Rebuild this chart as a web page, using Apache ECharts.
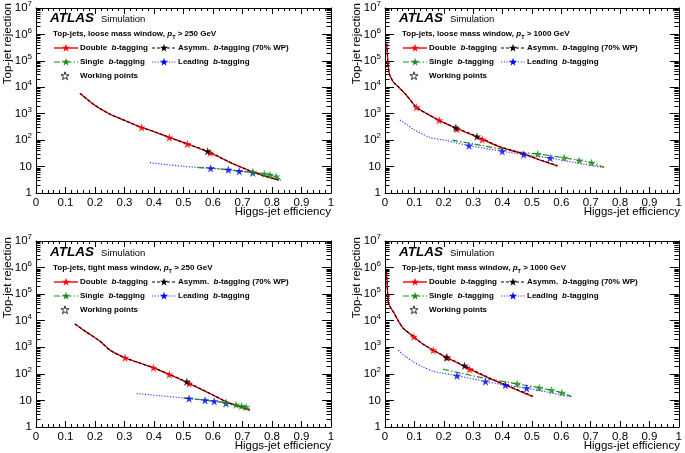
<!DOCTYPE html>
<html><head><meta charset="utf-8">
<script src="https://cdn.jsdelivr.net/npm/echarts@6/dist/echarts.min.js"></script>
<style>html,body{margin:0;padding:0;background:#fff}#c{width:685px;height:453px}</style>
</head><body><div id="c"></div><script>
// ---------------- data ----------------
const xTickValues = [0,0.1,0.2,0.3,0.4,0.5,0.6,0.7,0.8,0.9,1];
const xTickLabels = ['0','0.1','0.2','0.3','0.4','0.5','0.6','0.7','0.8','0.9','1'];
const yTickValues = [1,10,100,1e3,1e4,1e5,1e6,1e7];
const yTickLabels = ['1','10','10^2','10^3','10^4','10^5','10^6','10^7'];
const yMinorValues = [2,3,4,5,6,7,8,9,20,30,40,50,60,70,80,90,200,300,400,500,600,700,800,900,
  2e3,3e3,4e3,5e3,6e3,7e3,8e3,9e3,2e4,3e4,4e4,5e4,6e4,7e4,8e4,9e4,2e5,3e5,4e5,5e5,6e5,7e5,8e5,9e5,
  2e6,3e6,4e6,5e6,6e6,7e6,8e6,9e6];

const panelTitles = ['Top-jets, loose mass window, ','Top-jets, loose mass window, ','Top-jets, tight mass window, ','Top-jets, tight mass window, '];
const panelCuts = [' > 250 GeV',' > 1000 GeV',' > 250 GeV',' > 1000 GeV'];
const legendLabels = ['Double','Asymm.','Single','Leading','Working points'];

// Panel 1: loose, pT > 250 GeV
const p1Double = [[0.149,5900],[0.194,2300],[0.25,960],[0.30,560],[0.358,302],[0.40,210],[0.452,127],[0.513,72],[0.59,33],[0.669,12.7],[0.736,6.2],[0.78,4.2],[0.822,3.1]];
const p1DoubleWP = [[0.358,302],[0.452,127],[0.513,72],[0.59,33]];
const p1Asym = [[0.149,5900],[0.194,2300],[0.25,960],[0.30,560],[0.358,302],[0.40,210],[0.452,127],[0.513,72],[0.582,38],[0.669,12.7],[0.736,6.2],[0.78,4.2],[0.822,3.1]];
const p1AsymWP = [[0.582,38]];
const p1Single = [[0.55,9.2],[0.62,8.2],[0.689,6.8],[0.735,6.0],[0.774,5.4],[0.793,4.9],[0.814,4.2],[0.827,3.3]];
const p1SingleWP = [[0.735,6.1],[0.774,5.4],[0.793,4.9],[0.814,4.2]];
const p1Leading = [[0.386,14],[0.42,12.7],[0.5,10.2],[0.592,8.7],[0.652,7.6],[0.689,6.7],[0.735,5.8],[0.78,4.6],[0.83,3.0]];
const p1LeadingWP = [[0.592,8.7],[0.652,7.6],[0.689,6.7],[0.735,5.8]];

// Panel 2: loose, pT > 1000 GeV
const p2Double = [[0.006,4.5e5],[0.008,2e5],[0.010,8e4],[0.013,4e4],[0.018,2.6e4],[0.03,1.5e4],[0.045,1.05e4],[0.073,5000],[0.107,1750],[0.15,900],[0.184,560],[0.243,280],[0.29,170],[0.331,108],[0.39,56],[0.47,30],[0.525,18],[0.587,10.5]];
const p2DoubleWP = [[0.107,1750],[0.184,560],[0.245,265],[0.331,106]];
const p2Asym = [[0.006,4.5e5],[0.008,2e5],[0.010,8e4],[0.013,4e4],[0.018,2.6e4],[0.03,1.5e4],[0.045,1.05e4],[0.073,5000],[0.107,1750],[0.15,900],[0.184,560],[0.243,290],[0.313,138],[0.39,58],[0.47,31],[0.525,18.5],[0.587,10.8]];
const p2AsymWP = [[0.241,295],[0.313,138]];
const p2Single = [[0.229,100],[0.3,72],[0.4,45],[0.472,34],[0.52,30],[0.61,21.5],[0.661,17],[0.703,13.9],[0.746,9.2]];
const p2SingleWP = [[0.52,30],[0.61,21.5],[0.661,17],[0.703,13.9]];
const p2Leading = [[0.051,575],[0.075,380],[0.096,260],[0.153,127],[0.209,96],[0.286,62],[0.399,38],[0.472,28.5],[0.562,21],[0.65,14],[0.746,9.2]];
const p2LeadingWP = [[0.286,62],[0.399,38],[0.472,28.5],[0.562,21]];

// Panel 3: tight, pT > 250 GeV
const p3Double = [[0.132,7500],[0.17,3800],[0.217,1700],[0.251,780],[0.302,400],[0.35,260],[0.398,170],[0.452,95],[0.519,43],[0.601,15.7],[0.646,8.8],[0.69,5.8],[0.725,4.3]];
const p3DoubleWP = [[0.302,400],[0.398,170],[0.452,95],[0.519,43]];
const p3Asym = [[0.132,7500],[0.17,3800],[0.217,1700],[0.251,780],[0.302,400],[0.35,260],[0.398,170],[0.452,95],[0.511,50],[0.601,15.7],[0.646,8.8],[0.69,5.8],[0.725,4.3]];
const p3AsymWP = [[0.511,50]];
const p3Single = [[0.5,12.2],[0.57,10.3],[0.644,8.2],[0.678,6.9],[0.697,6.2],[0.712,5.6],[0.727,4.3]];
const p3SingleWP = [[0.644,8.2],[0.678,6.9],[0.697,6.2],[0.712,5.6]];
const p3Leading = [[0.341,18.2],[0.42,15],[0.519,11.8],[0.573,10.2],[0.604,9.3],[0.644,7.8],[0.69,6.0],[0.725,4.4]];
const p3LeadingWP = [[0.519,11.8],[0.573,10.2],[0.604,9.3],[0.644,7.8]];

// Panel 4: tight, pT > 1000 GeV
const p4Double = [[0.005,7e5],[0.007,3e5],[0.009,1e5],[0.011,5.2e4],[0.016,3.5e4],[0.028,2.2e4],[0.045,1e4],[0.062,5200],[0.098,2500],[0.13,1300],[0.164,780],[0.212,400],[0.25,250],[0.288,150],[0.356,67],[0.412,37],[0.46,22],[0.503,14]];
const p4DoubleWP = [[0.098,2500],[0.164,780],[0.212,400],[0.288,150]];
const p4Asym = [[0.005,7e5],[0.007,3e5],[0.009,1e5],[0.011,5.2e4],[0.016,3.5e4],[0.028,2.2e4],[0.045,1e4],[0.062,5200],[0.098,2500],[0.13,1300],[0.164,780],[0.209,420],[0.271,200],[0.356,70],[0.412,38],[0.46,23],[0.503,14.5]];
const p4AsymWP = [[0.209,420],[0.271,200]];
const p4Single = [[0.198,150],[0.26,105],[0.34,68],[0.45,42],[0.525,30],[0.567,24],[0.602,19.5],[0.635,14]];
const p4SingleWP = [[0.45,42],[0.525,30],[0.567,24],[0.602,19.5]];
const p4Leading = [[0.045,780],[0.07,450],[0.096,285],[0.13,180],[0.164,126],[0.245,85],[0.342,52],[0.41,38],[0.482,29],[0.56,20],[0.635,13.5]];
const p4LeadingWP = [[0.245,85],[0.342,52],[0.41,38],[0.482,29]];

// ---------------- layout / styles ----------------
const FONT = 'Liberation Sans, Arial, Helvetica, sans-serif';
const STAR = 'M50,0 L61.2,34.5 L97.6,34.5 L68.2,55.9 L79.4,90.5 L50,69.1 L20.6,90.5 L31.8,55.9 L2.4,34.5 L38.8,34.5 Z';
const STAR_PTS = [[50,0],[61.2,34.5],[97.6,34.5],[68.2,55.9],[79.4,90.5],[50,69.1],[20.6,90.5],[31.8,55.9],[2.4,34.5],[38.8,34.5]];
function starPoly(cx, cy, w, h){ return STAR_PTS.map(q => [cx + (q[0]-50)/100*w, cy + (q[1]-48)/92*h]); }
const C = {red:'#ff0000', black:'#000000', green:'#1a8a1a', blue:'#0000ff'};
const LS = {
  red:{color:C.red, width:1.4, type:'solid'},
  black:{color:C.black, width:1.1, type:[3,2]},
  green:{color:C.green, width:1.2, type:[6,2,1.5,2]},
  blue:{color:'#3a3aff', width:1.2, type:[1.2,1.6]}
};
const W = 295, H = 186;
const panels = [
  {gx:36, gy:7, d:[p1Double,p1DoubleWP,p1Asym,p1AsymWP,p1Single,p1SingleWP,p1Leading,p1LeadingWP]},
  {gx:385, gy:7, d:[p2Double,p2DoubleWP,p2Asym,p2AsymWP,p2Single,p2SingleWP,p2Leading,p2LeadingWP]},
  {gx:36, gy:241, d:[p3Double,p3DoubleWP,p3Asym,p3AsymWP,p3Single,p3SingleWP,p3Leading,p3LeadingWP]},
  {gx:385, gy:241, d:[p4Double,p4DoubleWP,p4Asym,p4AsymWP,p4Single,p4SingleWP,p4Leading,p4LeadingWP]}
];

const grid = [], xAxis = [], yAxis = [], series = [], graphic = [];
const axLine = {show:true, lineStyle:{color:'#000', width:1}};
const tickStyle = {color:'#000', width:1};

function yLabel(v){
  const i = yTickValues.findIndex(t => Math.abs(Math.log10(t) - Math.log10(v)) < 1e-6);
  const s = i >= 0 ? yTickLabels[i] : '';
  const parts = s.split('^');
  return parts.length === 2 ? '{b|' + parts[0] + '}{s|' + parts[1] + '}' : '{b|' + s + '}';
}

panels.forEach((p, i) => {
  grid.push({left:p.gx, top:p.gy, width:W, height:H, show:false});
  xAxis.push({type:'value', gridIndex:i, position:'bottom', min:0, max:1, interval:0.1,
    axisLine:axLine, splitLine:{show:false},
    axisTick:{show:true, inside:true, length:6, lineStyle:tickStyle},
    minorTick:{show:true, splitNumber:5, length:3, lineStyle:tickStyle},
    axisLabel:{show:true, margin:4, color:'#000', fontSize:11.5, fontFamily:FONT,
      formatter: v => { const k = xTickValues.findIndex(t => Math.abs(t - v) < 1e-6); return k >= 0 ? xTickLabels[k] : ''; }}
  });
  xAxis.push({type:'value', gridIndex:i, position:'top', min:0, max:1, interval:0.1,
    axisLine:axLine, splitLine:{show:false},
    axisTick:{show:true, inside:true, length:6, lineStyle:tickStyle},
    minorTick:{show:true, splitNumber:5, length:3, lineStyle:tickStyle},
    axisLabel:{show:false}
  });
  const yBase = {type:'log', logBase:10, gridIndex:i, min:1, max:1e7, splitLine:{show:false}};
  yAxis.push(Object.assign({}, yBase, {position:'left', axisLine:axLine,
    axisTick:{show:true, inside:true, length:9, lineStyle:tickStyle, customValues:yTickValues},
    axisLabel:{show:true, margin:4, color:'#000', customValues:yTickValues, formatter:yLabel,
      rich:{b:{fontSize:11.5, fontFamily:FONT, color:'#000', lineHeight:16},
            s:{fontSize:8, fontFamily:FONT, color:'#000', lineHeight:8, verticalAlign:'top'}}}
  }));
  yAxis.push(Object.assign({}, yBase, {position:'left', axisLine:{show:false},
    axisTick:{show:true, inside:true, length:4.5, lineStyle:tickStyle, customValues:yMinorValues},
    axisLabel:{show:false, customValues:yMinorValues}}));
  yAxis.push(Object.assign({}, yBase, {position:'right', axisLine:axLine,
    axisTick:{show:true, inside:true, length:9, lineStyle:tickStyle, customValues:yTickValues},
    axisLabel:{show:false, customValues:yTickValues}}));
  yAxis.push(Object.assign({}, yBase, {position:'right', axisLine:{show:false},
    axisTick:{show:true, inside:true, length:4.5, lineStyle:tickStyle, customValues:yMinorValues},
    axisLabel:{show:false, customValues:yMinorValues}}));

  const xi = 2*i, yi = 4*i;
  const [dbl, dblWP, asy, asyWP, sgl, sglWP, lead, leadWP] = p.d;
  const line = (data, ls, z) => ({type:'line', xAxisIndex:xi, yAxisIndex:yi, data, showSymbol:false, symbol:'none',
    smooth:0.25, lineStyle:ls, z, silent:true, animation:false});
  const pts = (data, color, z) => ({type:'scatter', xAxisIndex:xi, yAxisIndex:yi, data, symbol:'path://' + STAR,
    symbolSize:8.5, itemStyle:{color}, z, silent:true, animation:false});
  series.push(line(lead, LS.blue, 2), line(sgl, LS.green, 3), line(dbl, LS.red, 4), line(asy, LS.black, 5));
  series.push(pts(leadWP, C.blue, 6), pts(sglWP, C.green, 6), pts(dblWP, C.red, 7), pts(asyWP, C.black, 8));

  const gx = p.gx, gy = p.gy;
  graphic.push({type:'text', x:gx+14, y:gy+11, style:{text:'ATLAS', font:'italic bold 13.5px ' + FONT, fill:'#000', verticalAlign:'middle'}});
  graphic.push({type:'text', x:gx+65, y:gy+12, style:{text:'Simulation', font:'9.5px ' + FONT, fill:'#000', verticalAlign:'middle'}});
  graphic.push({type:'text', x:gx+17, y:gy+27, style:{
    text:'{b|' + panelTitles[i] + '}{i|p}{t|T}{b|' + panelCuts[i] + '}', verticalAlign:'middle',
    rich:{b:{fontSize:8, fontWeight:'bold', fontFamily:FONT, fill:'#000', lineHeight:12},
          i:{fontSize:8, fontWeight:'bold', fontStyle:'italic', fontFamily:FONT, fill:'#000', lineHeight:12},
          t:{fontSize:5.5, fontWeight:'bold', fontFamily:FONT, fill:'#000', lineHeight:6, verticalAlign:'bottom'}}}});
  const rows = [gy+41, gy+55, gy+69];
  const cols = [gx+18, gx+116];
  const leg = [
    {r:0, c:0, ls:LS.red, color:C.red, name:legendLabels[0], tail:'-tagging'},
    {r:0, c:1, ls:LS.black, color:C.black, name:legendLabels[1], tail:'-tagging (70% WP)'},
    {r:1, c:0, ls:LS.green, color:C.green, name:legendLabels[2], tail:'-tagging'},
    {r:1, c:1, ls:LS.blue, color:C.blue, name:legendLabels[3], tail:'-tagging'}
  ];
  const richL = {b:{fontSize:8, fontWeight:'bold', fontFamily:FONT, fill:'#000'},
                 i:{fontSize:8, fontWeight:'bold', fontStyle:'italic', fontFamily:FONT, fill:'#000'}};
  leg.forEach(e => {
    const x0 = cols[e.c], y0 = rows[e.r];
    graphic.push({type:'line', shape:{x1:x0, y1:y0, x2:x0+24, y2:y0},
      style:{stroke:e.ls.color, lineWidth:e.ls.width, lineDash:Array.isArray(e.ls.type) ? e.ls.type : null}});
    graphic.push({type:'polygon', shape:{points:starPoly(x0+12, y0, 8.5, 8)}, style:{fill:e.color}});
    graphic.push({type:'text', x:x0+26, y:y0, style:{text:'{b|' + e.name + '  }{i|b}{b|' + e.tail + '}', verticalAlign:'middle', rich:richL}});
  });
  graphic.push({type:'polygon', shape:{points:starPoly(gx+29, rows[2], 8.5, 8)},
    style:{fill:'none', stroke:'#000', lineWidth:0.8}});
  graphic.push({type:'text', x:gx+44, y:rows[2], style:{text:legendLabels[4], font:'bold 8px ' + FONT, fill:'#000', verticalAlign:'middle'}});

  graphic.push({type:'text', x:gx-28, y:gy-4, rotation:Math.PI/2, style:{text:'Top-jet rejection', font:'11.5px ' + FONT, fill:'#000', align:'right', verticalAlign:'middle'}});
  graphic.push({type:'text', x:gx+W, y:gy+H+19, style:{text:'Higgs-jet efficiency', font:'11.5px ' + FONT, fill:'#000', align:'right', verticalAlign:'middle'}});
});

const chart = echarts.init(document.getElementById('c'), null, {renderer:'canvas'});
chart.setOption({backgroundColor:'#fff', animation:false, grid, xAxis, yAxis, series, graphic});
</script></body></html>
